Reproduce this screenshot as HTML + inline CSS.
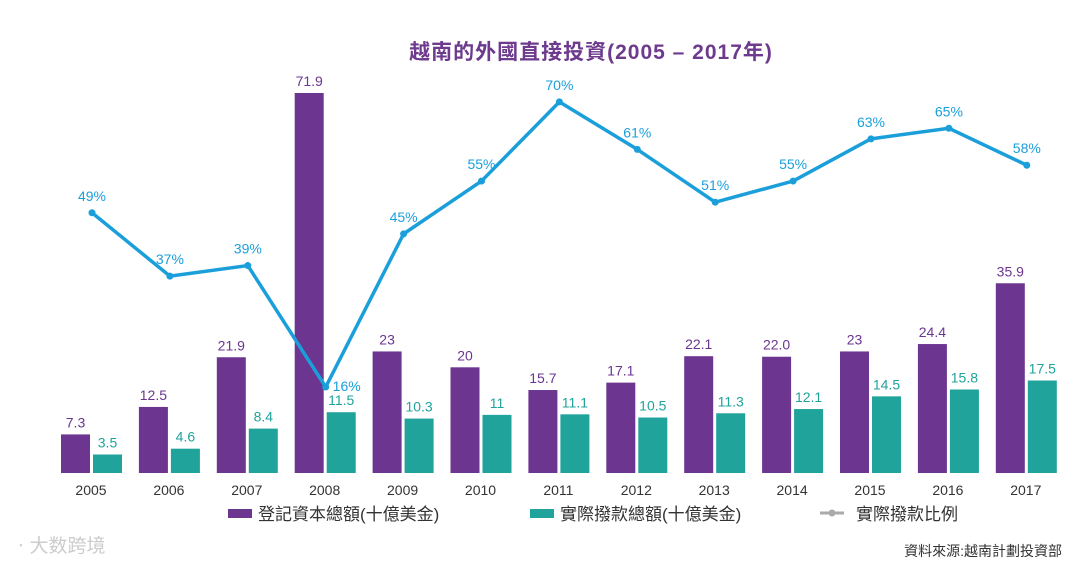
<!DOCTYPE html>
<html><head><meta charset="utf-8"><style>
body{margin:0;background:#fff;width:1080px;height:565px;overflow:hidden;font-family:"Liberation Sans","Noto Sans CJK TC",sans-serif}
</style></head><body>
<svg width="1080" height="565">
<text x="591" y="59" text-anchor="middle" font-size="21" font-weight="bold" fill="#6d3a8e" letter-spacing="1" font-family="Liberation Sans, Noto Sans CJK TC, sans-serif">越南的外國直接投資(2005 – 2017年)</text>
<g id="bars"></g><g id="line"></g><g id="xlabels"></g>
<g font-size="17" fill="#333">
<rect x="228" y="509" width="24" height="9" fill="#6b3590"/>
<text x="258" y="520">登記資本總額(十億美金)</text>
<rect x="530" y="509" width="24" height="9" fill="#1fa39a"/>
<text x="560" y="520">實際撥款總額(十億美金)</text>
<line x1="820" y1="513" x2="844" y2="513" stroke="#aaa" stroke-width="3"/>
<circle cx="832" cy="513" r="3.5" fill="#aaa"/>
<text x="856" y="520">實際撥款比例</text>
</g>
<text x="12" y="552" font-size="19" fill="#ccc">ㆍ大数跨境</text>
<text x="1062" y="556" text-anchor="end" font-size="14" fill="#333">資料來源:越南計劃投資部</text>
</svg>
<script>
const years=["2005","2006","2007","2008","2009","2010","2011","2012","2013","2014","2015","2016","2017"];
const registered=[7.3,12.5,21.9,71.9,23,20,15.7,17.1,22.1,22.0,23,24.4,35.9];
const registeredLabels=["7.3","12.5","21.9","71.9","23","20","15.7","17.1","22.1","22.0","23","24.4","35.9"];
const disbursed=[3.5,4.6,8.4,11.5,10.3,11,11.1,10.5,11.3,12.1,14.5,15.8,17.5];
const disbursedLabels=["3.5","4.6","8.4","11.5","10.3","11","11.1","10.5","11.3","12.1","14.5","15.8","17.5"];
const ratio=[49,37,39,16,45,55,70,61,51,55,63,65,58];
const NS="http://www.w3.org/2000/svg";
const base=473,k=5.285;
const xc=i=>91+i*77.9;
const yv=v=>base-v*k;
const yr=v=>387-(v-16)*5.28;
function mk(t,a,p){const e=document.createElementNS(NS,t);for(const n in a)e.setAttribute(n,a[n]);p.appendChild(e);return e;}
const gb=document.getElementById('bars'),gl=document.getElementById('line'),gx=document.getElementById('xlabels');
years.forEach((y,i)=>{
 const c=xc(i);
 let r=mk('rect',{x:c-30,y:yv(registered[i]),width:29,height:registered[i]*k,fill:'#6b3590'},gb);
 
 
 let t=mk('text',{x:c-15.5,y:yv(registered[i])-7,'text-anchor':'middle','font-size':14,fill:'#6b3590'},gb);t.textContent=registeredLabels[i];
 
 
 let r2=mk('rect',{x:c+2,y:yv(disbursed[i]),width:29,height:disbursed[i]*k,fill:'#1fa39a'},gb);
 
 
 let t2=mk('text',{x:c+16.5,y:yv(disbursed[i])-7,'text-anchor':'middle','font-size':14,fill:'#1fa39a'},gb);t2.textContent=disbursedLabels[i];
 
 
 let tx=mk('text',{x:c,y:495,'text-anchor':'middle','font-size':14,fill:'#333'},gx);tx.textContent=y;
 
 
});
const pts=ratio.map((v,i)=>(xc(i)+1)+','+yr(v)).join(' ');
const pl=mk('polyline',{points:pts,fill:'none',stroke:'#1a9fdb','stroke-width':3.5,'stroke-linejoin':'round'},gl);


ratio.forEach((v,i)=>{
 const c=mk('circle',{cx:xc(i)+1,cy:yr(v),r:3.5,fill:'#1a9fdb'},gl);
 
 
 const t=mk('text',{x:xc(i)+(i==3?22:1),y:yr(v)-(i==3?-4:12),'text-anchor':'middle','font-size':14,fill:'#1a9fdb'},gl);t.textContent=v+'%';
 
 
});
</script>
</body></html>
